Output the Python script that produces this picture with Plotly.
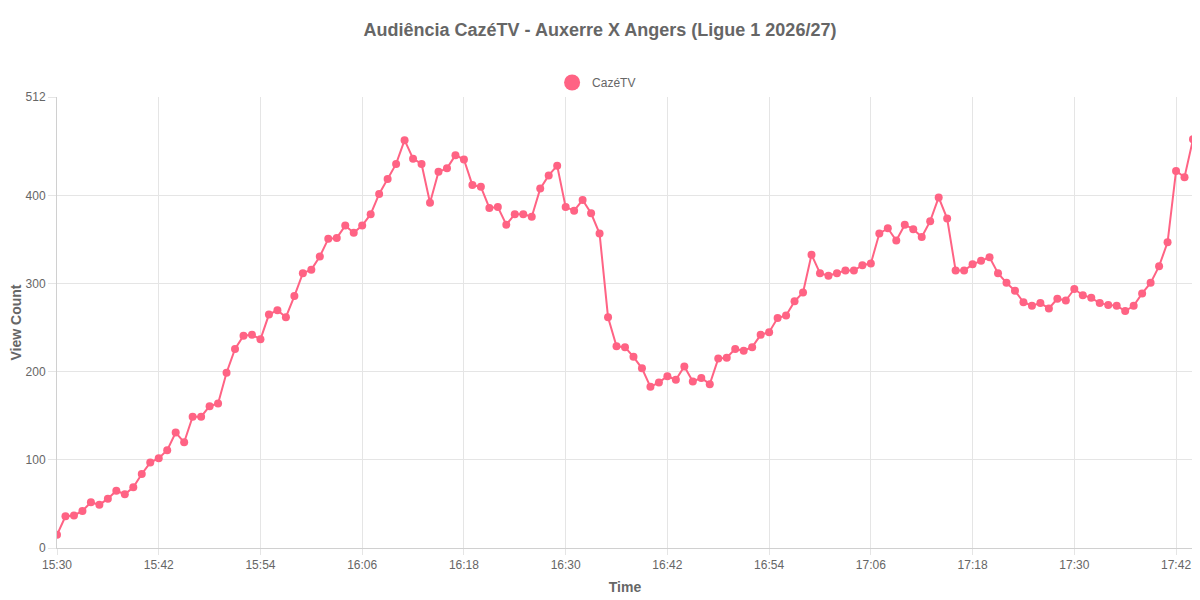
import plotly.graph_objects as go
import pandas as pd

times = pd.date_range("2026-08-15 15:30", "2026-08-15 17:44", freq="1min")
view_count = [
    15, 36, 37, 42, 52, 49, 56, 65, 61, 69, 84, 97,
    102, 111, 131, 120, 149, 149, 161, 164, 199, 226, 241, 242,
    237, 265, 270, 262, 286, 312, 316, 331, 351, 352, 366, 358,
    366, 379, 402, 419, 436, 463, 442, 436, 392, 427, 431, 446,
    441, 412, 410, 386, 387, 367, 379, 379, 376, 408, 423, 434,
    387, 383, 395, 380, 357, 262, 229, 228, 217, 204, 183, 188,
    195, 191, 206, 189, 193, 186, 215, 216, 226, 224, 228, 242,
    245, 261, 264, 280, 290, 333, 312, 309, 312, 315, 315, 321,
    323, 357, 363, 349, 367, 362, 353, 371, 398, 374, 315, 315,
    322, 326, 330, 312, 301, 292, 279, 275, 278, 272, 283, 281,
    294, 287, 284, 278, 276, 275, 269, 275, 289, 301, 320, 347,
    428, 421, 464,
]
y_ticks = [0, 100, 200, 300, 400, 512]
x_tick_times = pd.date_range("2026-08-15 15:30", "2026-08-15 17:42", freq="12min")
x_tick_labels = [t.strftime("%H:%M") for t in x_tick_times]

title = "Audiência CazéTV - Auxerre X Angers (Ligue 1 2026/27)"
series_name = "CazéTV"
color = "#ff6384"
font = "Liberation Sans, Arial, sans-serif"

fig = go.Figure()
fig.add_trace(go.Scatter(
    x=times, y=view_count, mode="lines+markers", name=series_name,
    line=dict(color=color, width=2),
    marker=dict(color=color, size=8),
    showlegend=False,
))
fig.add_trace(go.Scatter(
    x=[None], y=[None], mode="markers", name=series_name,
    marker=dict(color=color, size=18),
    showlegend=True,
))

fig.update_layout(
    width=1200, height=600,
    paper_bgcolor="white", plot_bgcolor="white",
    margin=dict(l=49, r=15, t=89, b=60, autoexpand=False),
    font=dict(family=font, color="#666", size=12),
    title=dict(text="<b>" + title + "</b>", x=592 / 1200, xanchor="center",
               y=1 - 22 / 600, yanchor="middle", yref="container",
               font=dict(size=18, color="#666", family=font)),
    legend=dict(orientation="h", x=0.475, xanchor="center", y=1.0, yanchor="bottom",
                yref="paper", font=dict(size=12, color="#666"),
                itemwidth=30),
    xaxis=dict(
        range=[times[0], times[-1]],
        tickvals=list(x_tick_times), ticktext=x_tick_labels,
        showgrid=True, gridcolor="#e5e5e5", gridwidth=1,
        ticks="outside", ticklen=6, tickcolor="#e5e5e5",
        showline=True, linecolor="#d0d0d0", linewidth=1,
        zeroline=False, automargin=False,
        title=dict(text="<b>Time</b>", font=dict(size=14, color="#666"), standoff=10),
        tickfont=dict(size=12, color="#666"),
    ),
    yaxis=dict(
        range=[0, 512],
        tickvals=y_ticks, ticktext=[str(v) for v in y_ticks],
        showgrid=True, gridcolor="#e5e5e5", gridwidth=1,
        ticks="outside", ticklen=8, tickcolor="#e5e5e5",
        showline=True, linecolor="#d0d0d0", linewidth=1,
        zeroline=False, automargin=False,
        title=dict(text="<b>View Count</b>", font=dict(size=14, color="#666"), standoff=4),
        tickfont=dict(size=12, color="#666"),
    ),
)

fig.write_html("out.html")
